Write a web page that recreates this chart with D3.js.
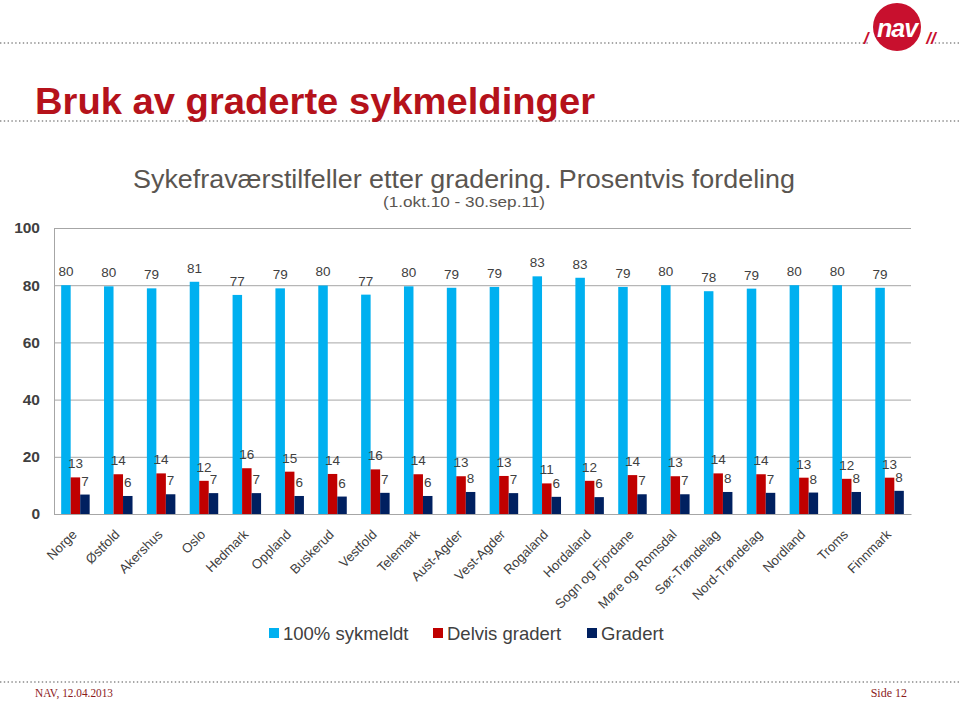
<!DOCTYPE html>
<html>
<head>
<meta charset="utf-8">
<script src="https://cdn.jsdelivr.net/npm/d3@7"></script>
<style>
  html, body { margin: 0; padding: 0; background: #fff; }
  svg { display: block; font-family: "Liberation Sans", Arial, sans-serif; }
</style>
</head>
<body>
<svg id="chart" width="960" height="702"></svg>
<script>
// ---- data ----
const categories = ["Norge","Østfold","Akershus","Oslo","Hedmark","Oppland","Buskerud","Vestfold","Telemark","Aust-Agder","Vest-Agder","Rogaland","Hordaland","Sogn og Fjordane","Møre og Romsdal","Sør-Trøndelag","Nord-Trøndelag","Nordland","Troms","Finnmark"];
const seriesNames = ["100% sykmeldt","Delvis gradert","Gradert"];
const full    = [80.0,79.6,78.9,81.2,76.6,78.9,79.9,76.7,79.6,79.1,79.4,83.1,82.6,79.4,80.0,77.9,78.8,80.0,80.0,79.1];
const partial = [12.8,13.9,14.2,11.6,16.0,14.8,14.0,15.6,13.9,13.2,13.3,10.7,11.6,13.6,13.2,14.2,13.9,12.7,12.3,12.7];
const graded  = [6.8,6.3,6.9,7.3,7.3,6.3,6.1,7.4,6.3,7.7,7.3,6.0,5.9,6.9,6.9,7.7,7.4,7.5,7.7,8.1];
const yTicks = [0,20,40,60,80,100];
const colors = ["#00b0f0","#c00000","#002060"];

const svg = d3.select("#chart");
const textCol = "#404040";
const serif = "'Liberation Serif', 'Times New Roman', serif";

// ---- header / footer decorations ----
function dotted(y) {
  svg.append("line").attr("x1",0).attr("x2",960).attr("y1",y).attr("y2",y)
    .attr("stroke","#8a8a8a").attr("stroke-width",1.4).attr("stroke-dasharray","1.4,2.4");
}
dotted(43); dotted(121); dotted(682);

// logo
const logo = svg.append("g");
logo.append("rect").attr("x",868).attr("y",36).attr("width",62).attr("height",12).attr("fill","#fff");
logo.append("circle").attr("cx",897).attr("cy",27).attr("r",24).attr("fill","#c8102e");
logo.append("text").attr("x",897).attr("y",37).attr("text-anchor","middle")
  .attr("fill","#fff").attr("font-size",25).attr("font-weight","bold").attr("font-style","italic")
  .attr("letter-spacing","-1").text("nav");
logo.append("text").attr("x",866).attr("y",44).attr("text-anchor","middle")
  .attr("fill","#c8102e").attr("font-size",17).attr("font-weight","bold").attr("font-style","italic").text("/");
logo.append("text").attr("x",931).attr("y",44).attr("text-anchor","middle")
  .attr("fill","#c8102e").attr("font-size",17).attr("font-weight","bold").attr("font-style","italic").text("//");

// slide title
svg.append("text").attr("x",35).attr("y",114).attr("fill","#b5121b")
  .attr("font-size",37).attr("font-weight","bold")
  .attr("textLength",560).attr("lengthAdjust","spacingAndGlyphs")
  .text("Bruk av graderte sykmeldinger");

// chart titles
svg.append("text").attr("x",464).attr("y",188).attr("text-anchor","middle").attr("fill","#5a5550")
  .attr("font-size",26).attr("textLength",662).attr("lengthAdjust","spacingAndGlyphs")
  .text("Sykefraværstilfeller etter gradering. Prosentvis fordeling");
svg.append("text").attr("x",464).attr("y",207).attr("text-anchor","middle").attr("fill","#5a5550")
  .attr("font-size",15).attr("textLength",162).attr("lengthAdjust","spacingAndGlyphs")
  .text("(1.okt.10 - 30.sep.11)");

// footer
svg.append("text").attr("x",35).attr("y",697).attr("fill","#8b1a1a")
  .style("font-family", serif).attr("font-size",12)
  .attr("textLength",78).attr("lengthAdjust","spacingAndGlyphs")
  .text("NAV, 12.04.2013");
svg.append("text").attr("x",907).attr("y",697).attr("text-anchor","end").attr("fill","#8b1a1a")
  .style("font-family", serif).attr("font-size",12)
  .text("Side 12");

// ---- chart ----
const plot = {left:54, right:911, top:228, bottom:514};
const x = d3.scaleBand().domain(categories).range([plot.left, plot.right])
  .paddingInner(0.335).paddingOuter(0.1675);
const xs = d3.scaleBand().domain(seriesNames).range([0, x.bandwidth()]);
const y = d3.scaleLinear().domain([0,100]).range([plot.bottom, plot.top]);

// gridlines + y labels
const yAxis = d3.axisLeft(y).tickValues(yTicks).tickSize(-(plot.right-plot.left)).tickPadding(14).tickFormat(d3.format("d"));
const gy = svg.append("g").attr("transform",`translate(${plot.left},0)`).call(yAxis);
gy.select(".domain").attr("stroke","#a6a6a6");
gy.selectAll(".tick line").attr("stroke","#a6a6a6");
gy.selectAll(".tick text").attr("fill",textCol).attr("font-size",15.5).attr("font-weight","bold")
  .style("font-family","'Liberation Sans', Arial, sans-serif");

// bars + data labels
const seriesData = [full, partial, graded];
const fmt = d3.format(".0f");
seriesData.forEach((vals, si) => {
  const g = svg.append("g");
  g.selectAll("rect").data(vals).join("rect")
    .attr("x",(d,i)=> x(categories[i]) + xs(seriesNames[si]))
    .attr("width", xs.bandwidth())
    .attr("y", d => y(d))
    .attr("height", d => y(0) - y(d))
    .attr("fill", colors[si]);
  g.selectAll("text").data(vals).join("text")
    .attr("x",(d,i)=> x(categories[i]) + xs(seriesNames[si]) + xs.bandwidth()/2)
    .attr("y", d => y(d) - 9)
    .attr("text-anchor","middle")
    .attr("fill", textCol).attr("font-size",13.5)
    .text(d => fmt(d));
});

// x axis
const xAxis = d3.axisBottom(x).tickSize(0).tickPadding(0);
const gx = svg.append("g").attr("transform",`translate(0,${plot.bottom})`).call(xAxis);
gx.select(".domain").attr("stroke","#a6a6a6");
gx.selectAll(".tick text")
  .attr("fill",textCol).attr("font-size",13.2)
  .style("font-family","'Liberation Sans', Arial, sans-serif")
  .attr("text-anchor","end")
  .attr("y",0).attr("dy","0.35em")
  .attr("transform","translate(-1,18) rotate(-45)");

// legend
const legend = svg.append("g");
const legendX = [269, 433, 587];
seriesNames.forEach((name, i) => {
  legend.append("rect").attr("x",legendX[i]).attr("y",628).attr("width",10).attr("height",10).attr("fill",colors[i]);
  legend.append("text").attr("x",legendX[i]+14).attr("y",639.5).attr("fill",textCol)
    .attr("font-size",18.5).text(name);
});
</script>
</body>
</html>
